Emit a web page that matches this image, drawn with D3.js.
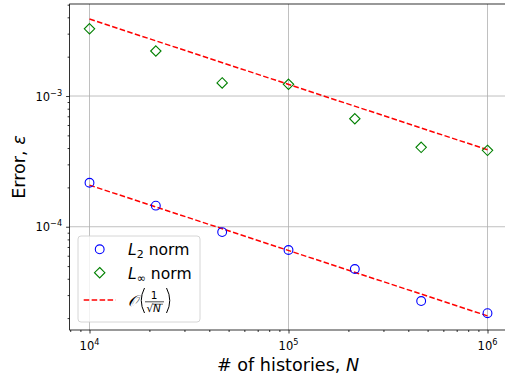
<!DOCTYPE html>
<html>
<head>
<meta charset="utf-8">
<script src="https://cdn.jsdelivr.net/npm/d3@7"></script>
<style>
  body { margin: 0; background: #fff; }
  svg { display: block; font-family: "DejaVu Sans", sans-serif; }
</style>
</head>
<body>
<div id="chart"></div>
<script>
// values
const histories = [1e4, 21544, 46416, 1e5, 215443, 464159, 1e6];
const errL2 = [2.17e-4, 1.45e-4, 9.1e-5, 6.64e-5, 4.75e-5, 2.70e-5, 2.18e-5];
const errLinf = [3.27e-3, 2.21e-3, 1.26e-3, 1.23e-3, 6.70e-4, 4.05e-4, 3.84e-4];
const fitN = [1e4, 1e6];
const fitL2 = [2.08e-4, 2.08e-5];
const fitLinf = [3.88e-3, 3.88e-4];
const xMajor = [1e4, 1e5, 1e6];
const xExp = ['4', '5', '6'];
const yMajor = [1e-4, 1e-3];
const yExp = ['\u22124', '\u22123'];

const W = 505, H = 379;
const margin = { top: 4, left: 69.6, right: -2.4, bottom: 49 };
const width = W - margin.left - margin.right;
const height = H - margin.top - margin.bottom;

const svg = d3.select('#chart').append('svg')
  .attr('width', W).attr('height', H);

const g = svg.append('g')
  .attr('transform', `translate(${margin.left},${margin.top})`);

const x = d3.scaleLog().domain([Math.pow(10, 3.9), Math.pow(10, 6.1)]).range([0, width]);
const y = d3.scaleLog().domain([Math.pow(10, -4.79), Math.pow(10, -2.296)]).range([height, 0]);

// grid on major ticks
g.append('g')
  .selectAll('line.gx').data(xMajor).join('line')
  .attr('x1', d => x(d)).attr('x2', d => x(d))
  .attr('y1', 0).attr('y2', height)
  .attr('stroke', '#b0b0b0').attr('stroke-width', 0.8);
g.append('g')
  .selectAll('line.gy').data(yMajor).join('line')
  .attr('y1', d => y(d)).attr('y2', d => y(d))
  .attr('x1', 0).attr('x2', width)
  .attr('stroke', '#b0b0b0').attr('stroke-width', 0.8);

// minor ticks
const minorX = [];
for (let e = 3; e <= 6; e++) for (let m = 2; m <= 9; m++) {
  const v = m * Math.pow(10, e);
  if (v > x.domain()[0] && v < x.domain()[1]) minorX.push(v);
}
const minorY = [];
for (let e = -5; e <= -3; e++) for (let m = 2; m <= 9; m++) {
  const v = m * Math.pow(10, e);
  if (v > y.domain()[0] && v < y.domain()[1]) minorY.push(v);
}

// axes
const xAxis = g.append('g').attr('transform', `translate(0,${height})`);
xAxis.append('g')
  .call(d3.axisBottom(x).tickValues(xMajor).tickSize(3.5).tickFormat(''));
xAxis.append('g')
  .call(d3.axisBottom(x).tickValues(minorX).tickSize(2).tickFormat(''));
xAxis.selectAll('.domain').remove();
xAxis.selectAll('line').attr('stroke', '#000').attr('stroke-width', 0.8);

const yAxis = g.append('g');
yAxis.append('g')
  .call(d3.axisLeft(y).tickValues(yMajor).tickSize(3.5).tickFormat(''));
yAxis.append('g')
  .call(d3.axisLeft(y).tickValues(minorY).tickSize(2).tickFormat(''));
yAxis.selectAll('.domain').remove();
yAxis.selectAll('line').attr('stroke', '#000').attr('stroke-width', 0.8);

// tick labels with superscripts
const xl = g.append('g').selectAll('text').data(xMajor).join('text')
  .attr('x', d => x(d)).attr('y', height + 19.5)
  .attr('text-anchor', 'middle').attr('font-size', 11.5).attr('fill', '#000');
xl.append('tspan').text('10');
xl.append('tspan').attr('dy', -5).attr('font-size', 8.2).text((d, i) => xExp[i]);

const yl = g.append('g').selectAll('text').data(yMajor).join('text')
  .attr('x', -7.5).attr('y', d => y(d) + 4.5)
  .attr('text-anchor', 'end').attr('font-size', 11.5).attr('fill', '#000');
yl.append('tspan').text('10');
yl.append('tspan').attr('dy', -5).attr('font-size', 8.2).text((d, i) => yExp[i]);

// spines
g.append('rect')
  .attr('x', 0).attr('y', 0).attr('width', width).attr('height', height)
  .attr('fill', 'none').attr('stroke', '#000').attr('stroke-width', 0.8);

// fit lines
const line = d3.line().x(d => x(d[0])).y(d => y(d[1]));
[fitL2, fitLinf].forEach(vals => {
  g.append('path')
    .datum(fitN.map((n, i) => [n, vals[i]]))
    .attr('fill', 'none').attr('stroke', '#ff0000').attr('stroke-width', 1.5)
    .attr('stroke-dasharray', '5.55,2.4')
    .attr('d', line);
});

// markers
g.append('g').selectAll('circle').data(histories).join('circle')
  .attr('cx', d => x(d)).attr('cy', (d, i) => y(errL2[i]))
  .attr('r', 4.4).attr('fill', 'none').attr('stroke', '#0000ff').attr('stroke-width', 1.1);

const diamond = 'M0,-5.2L5.2,0L0,5.2L-5.2,0Z';
g.append('g').selectAll('path').data(histories).join('path')
  .attr('transform', (d, i) => `translate(${x(d)},${y(errLinf[i])})`)
  .attr('d', diamond)
  .attr('fill', 'none').attr('stroke', '#008000').attr('stroke-width', 1.1);

// axis labels
svg.append('text')
  .attr('x', margin.left + 437 / 2).attr('y', 371)
  .attr('text-anchor', 'middle').attr('font-size', 17.6)
  .html('# of histories, <tspan font-style="italic">N</tspan>');

svg.append('text')
  .attr('transform', `translate(25,167) rotate(-90)`)
  .attr('text-anchor', 'middle').attr('font-size', 17.6)
  .html('Error, <tspan font-style="italic">\u03b5</tspan>');

// legend
const leg = svg.append('g');
leg.append('rect')
  .attr('x', 78).attr('y', 236).attr('width', 122).attr('height', 86).attr('rx', 3)
  .attr('fill', '#fff').attr('fill-opacity', 0.8)
  .attr('stroke', '#cccccc').attr('stroke-width', 0.8);

leg.append('circle').attr('cx', 99.7).attr('cy', 249.3).attr('r', 4.4)
  .attr('fill', 'none').attr('stroke', '#0000ff').attr('stroke-width', 1.1);
leg.append('path').attr('transform', 'translate(99.7,272.7)').attr('d', diamond)
  .attr('fill', 'none').attr('stroke', '#008000').attr('stroke-width', 1.1);
leg.append('line').attr('x1', 83.7).attr('x2', 115.7).attr('y1', 300).attr('y2', 300)
  .attr('stroke', '#ff0000').attr('stroke-width', 1.5).attr('stroke-dasharray', '5.55,2.4');

const t1 = leg.append('text').attr('x', 128).attr('y', 255).attr('font-size', 15.6);
t1.append('tspan').attr('font-style', 'italic').text('L');
t1.append('tspan').attr('dy', 3).attr('font-size', 11).text('2');
t1.append('tspan').attr('dy', -3).text(' norm');

const t2 = leg.append('text').attr('x', 128).attr('y', 278.5).attr('font-size', 15.6);
t2.append('tspan').attr('font-style', 'italic').text('L');
t2.append('tspan').attr('dy', 3).attr('font-size', 11).text('\u221e');
t2.append('tspan').attr('dy', -3).text(' norm');

// O(1/sqrt(N)) entry, parentheses drawn as strokes
const f = leg.append('g').attr('transform', 'translate(128,300)');
f.append('text').attr('x', 0).attr('y', 5.5).attr('font-size', 15.6).attr('font-style', 'italic').text('\ud835\udcaa');
f.append('path').attr('d', 'M16.5,-12Q10,0.5 16.5,13')
  .attr('fill', 'none').attr('stroke', '#000').attr('stroke-width', 1);
f.append('path').attr('d', 'M38.5,-12Q45,0.5 38.5,13')
  .attr('fill', 'none').attr('stroke', '#000').attr('stroke-width', 1);
f.append('text').attr('x', 26).attr('y', -0.8).attr('font-size', 10.5).attr('text-anchor', 'middle').text('1');
f.append('line').attr('x1', 17).attr('x2', 36).attr('y1', 1.8).attr('y2', 1.8).attr('stroke', '#000').attr('stroke-width', 0.7);
f.append('text').attr('x', 18.5).attr('y', 11.5).attr('font-size', 10.5).text('\u221a');
f.append('line').attr('x1', 24.5).attr('x2', 35).attr('y1', 4.2).attr('y2', 4.2).attr('stroke', '#000').attr('stroke-width', 0.6);
f.append('text').attr('x', 25).attr('y', 11.5).attr('font-size', 10.5).attr('font-style', 'italic').text('N');
</script>
</body>
</html>
